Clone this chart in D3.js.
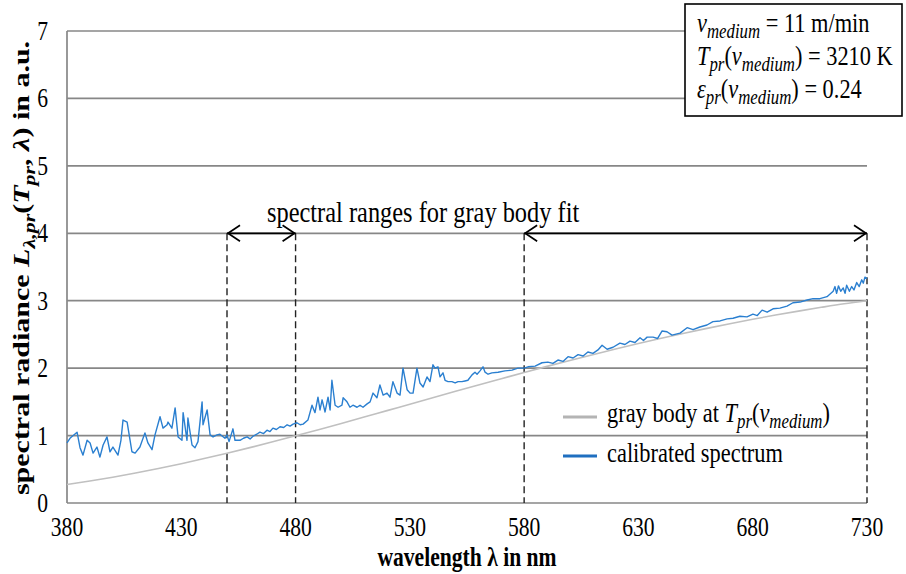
<!DOCTYPE html>
<html>
<head>
<meta charset="utf-8">
<script src="https://cdn.jsdelivr.net/npm/d3@7"></script>
<style>
  html, body { margin: 0; padding: 0; background: #fff; }
  svg { display: block; font-family: "Liberation Serif", "Times New Roman", serif; }
</style>
</head>
<body>
<svg id="chart" width="906" height="574"></svg>
<script>
// Axis ranges and tick labels
const xTicks = [380, 430, 480, 530, 580, 630, 680, 730];
const yTicks = [0, 1, 2, 3, 4, 5, 6, 7];

// Wavelength boundaries of the two fit ranges (nm)
const fitRanges = [[450, 480], [580, 730]];

// Gray body curve: wavelength (nm) and radiance (a.u.)
const grayWavelength = [380, 390, 400, 410, 420, 430, 440, 450, 460, 470, 480, 490, 500, 510, 520, 530, 540, 550, 560, 570, 580, 590, 600, 610, 620, 630, 640, 650, 660, 670, 680, 690, 700, 710, 720, 730];
const grayRadiance = [0.274, 0.326, 0.383, 0.445, 0.512, 0.583, 0.659, 0.738, 0.821, 0.907, 0.996, 1.087, 1.180, 1.274, 1.370, 1.465, 1.561, 1.656, 1.750, 1.843, 1.936, 2.026, 2.114, 2.200, 2.284, 2.365, 2.443, 2.518, 2.590, 2.659, 2.725, 2.787, 2.846, 2.902, 2.955, 3.000];

// Calibrated spectrum: wavelength (nm) and radiance (a.u.)
const specWavelength = [
  380.0, 381.3, 384.4, 385.7, 387.0, 388.8, 390.1, 391.4, 393.1, 394.4, 395.8, 397.5, 398.8, 400.1, 402.3, 403.6, 404.5, 406.3, 407.6, 408.4,
  409.8, 411.9, 414.1, 415.4, 417.2, 418.5, 420.7, 422.0, 423.8, 424.2, 425.9, 427.3, 428.6, 430.3, 430.8, 432.5, 432.9, 434.7, 436.0, 437.3,
  439.1, 439.5, 441.3, 442.6, 443.9, 445.6, 446.9, 449.1, 450.0, 450.9, 452.6, 453.5, 455.7, 457.2, 458.8, 460.1, 461.4, 463.0, 464.4, 466.0,
  467.5, 468.8, 470.1, 471.6, 473.2, 474.8, 476.3, 477.6, 478.9, 480.6, 482.0, 483.3, 485.4, 487.2, 488.5, 489.8, 490.7, 491.6, 492.9, 494.2,
  495.1, 495.9, 497.3, 498.6, 500.3, 500.8, 502.5, 503.8, 505.1, 506.9, 508.2, 509.5, 511.3, 512.6, 513.9, 515.6, 516.9, 518.3, 520.0, 521.3,
  522.6, 524.4, 525.7, 527.0, 528.8, 530.1, 531.4, 533.1, 534.4, 535.8, 537.5, 538.8, 540.1, 541.0, 542.3, 543.2, 544.5, 545.4, 546.7, 548.4,
  549.8, 551.1, 552.8, 554.1, 555.4, 557.2, 558.5, 559.4, 560.7, 562.0, 562.9, 564.2, 565.9, 568.6, 571.6, 574.7, 577.3, 579.9, 581.7, 584.8,
  587.8, 590.4, 592.6, 594.8, 597.0, 599.2, 601.4, 603.6, 605.8, 607.9, 610.1, 612.3, 614.1, 616.3, 618.9, 621.9, 624.1, 626.3, 628.5, 630.7,
  632.2, 633.8, 636.4, 638.4, 640.3, 642.5, 644.7, 648.2, 651.3, 653.9, 656.9, 660.0, 662.6, 665.7, 668.8, 671.4, 674.4, 677.5, 680.1, 682.0,
  684.1, 686.3, 688.9, 691.9, 695.0, 697.6, 700.7, 703.8, 706.4, 709.4, 712.5, 715.2, 716.0, 716.7, 717.5, 718.5, 719.6, 720.4, 721.1, 722.3,
  723.3, 724.3, 725.5, 726.6, 727.7, 728.4, 729.1, 730.0
];
const specRadiance = [
  0.89, 0.96, 1.05, 0.82, 0.71, 0.93, 0.89, 0.74, 0.83, 0.68, 0.86, 0.98, 0.76, 0.83, 0.71, 0.93, 1.23, 1.20, 0.93, 0.76,
  0.74, 0.83, 1.04, 0.89, 0.79, 1.01, 1.28, 1.11, 1.16, 1.20, 1.11, 1.41, 0.98, 0.93, 1.34, 0.93, 1.26, 0.86, 0.82, 0.91,
  1.50, 1.16, 1.38, 1.01, 0.98, 1.01, 1.02, 0.96, 1.01, 0.91, 1.10, 0.93, 0.93, 0.96, 0.98, 0.95, 0.99, 1.02, 1.05, 1.03,
  1.08, 1.06, 1.11, 1.09, 1.13, 1.12, 1.16, 1.14, 1.17, 1.19, 1.16, 1.17, 1.23, 1.45, 1.34, 1.57, 1.38, 1.53, 1.35, 1.57,
  1.38, 1.82, 1.45, 1.42, 1.45, 1.56, 1.50, 1.42, 1.45, 1.42, 1.45, 1.42, 1.47, 1.50, 1.63, 1.56, 1.75, 1.60, 1.63, 1.57,
  1.80, 1.63, 1.60, 2.00, 1.68, 1.63, 1.63, 2.00, 1.78, 1.72, 1.87, 1.80, 2.05, 2.00, 2.02, 1.87, 1.93, 1.82, 1.80, 1.80,
  1.78, 1.80, 1.80, 1.81, 1.82, 1.90, 1.94, 1.91, 1.96, 2.02, 1.94, 1.91, 1.93, 1.94, 1.96, 1.97, 2.00, 2.00, 2.02, 2.03,
  2.08, 2.09, 2.07, 2.12, 2.10, 2.17, 2.15, 2.20, 2.18, 2.24, 2.22, 2.27, 2.34, 2.28, 2.31, 2.37, 2.35, 2.40, 2.38, 2.45,
  2.41, 2.46, 2.46, 2.44, 2.55, 2.54, 2.49, 2.52, 2.60, 2.57, 2.61, 2.64, 2.69, 2.70, 2.73, 2.74, 2.77, 2.76, 2.80, 2.78,
  2.86, 2.83, 2.88, 2.89, 2.92, 2.97, 2.98, 3.01, 3.03, 3.03, 3.06, 3.14, 3.21, 3.11, 3.22, 3.14, 3.19, 3.11, 3.23, 3.14,
  3.21, 3.16, 3.27, 3.21, 3.31, 3.26, 3.35, 3.33
];

// Text labels
const legendLabels = ["gray body at", "calibrated spectrum"];
const fitLabel = "spectral ranges for gray body fit";
const xTitle = "wavelength λ in nm";

const svg = d3.select("#chart");
const W = 906, H = 574;
const margin = { top: 31, right: 39, bottom: 71, left: 67 };

const x = d3.scaleLinear().domain([380, 730]).range([margin.left, W - margin.right]);
const y = d3.scaleLinear().domain([0, 7]).range([H - margin.bottom, margin.top]);

const gridColor = "#878787";
const blue = "#2a7fd0";
const grayLine = "#c0c0c0";
const SX = 0.8; // horizontal condensing of the serif lettering

// Horizontal text drawn with condensed glyphs
function hText(parent, px, py, size, anchor = "start") {
  return parent.append("g")
    .attr("transform", `translate(${px},${py}) scale(${SX},1)`)
    .append("text")
    .attr("x", 0).attr("y", 0)
    .attr("font-size", size)
    .attr("text-anchor", anchor)
    .attr("fill", "#000");
}

// Writes rich text segments: [text, italic, subscript]
function rich(t, segs, subSize, shift) {
  let level = 0;
  segs.forEach(([s, it, sub]) => {
    const target = sub ? shift : 0;
    const ts = t.append("tspan").text(s);
    if (target !== level) { ts.attr("dy", target - level); level = target; }
    if (it) ts.attr("font-style", "italic");
    if (sub) ts.attr("font-size", subSize);
  });
  return t;
}

// Horizontal gridlines
svg.append("g")
  .selectAll("line")
  .data(yTicks)
  .join("line")
  .attr("x1", x(380)).attr("x2", x(730))
  .attr("y1", d => y(d)).attr("y2", d => y(d))
  .attr("stroke", gridColor)
  .attr("stroke-width", 1.7);

// Left axis line
svg.append("line")
  .attr("x1", x(380)).attr("x2", x(380))
  .attr("y1", y(0)).attr("y2", y(7))
  .attr("stroke", gridColor)
  .attr("stroke-width", 1.7);

// Tick labels
const tickG = svg.append("g");
xTicks.forEach(v => hText(tickG, x(v), 536, 27, "middle").text(v));
yTicks.forEach(v => hText(tickG, 48, y(v) + 9, 27, "end").text(v));

// Dashed boundaries of the fit ranges
const bounds = Array.from(new Set(fitRanges.flat()));
svg.append("g")
  .selectAll("line")
  .data(bounds)
  .join("line")
  .attr("x1", d => x(d)).attr("x2", d => x(d))
  .attr("y1", y(4)).attr("y2", y(0))
  .attr("stroke", "#222")
  .attr("stroke-width", 1.4)
  .attr("stroke-dasharray", "7,4");

// Gray body curve
const grayData = grayWavelength.map((w, i) => [w, grayRadiance[i]]);
svg.append("path")
  .datum(grayData)
  .attr("fill", "none")
  .attr("stroke", grayLine)
  .attr("stroke-width", 1.6)
  .attr("d", d3.line().x(d => x(d[0])).y(d => y(d[1])).curve(d3.curveMonotoneX));

// Calibrated spectrum
const specData = specWavelength.map((w, i) => [w, specRadiance[i]]);
svg.append("path")
  .datum(specData)
  .attr("fill", "none")
  .attr("stroke", blue)
  .attr("stroke-width", 1.4)
  .attr("stroke-linejoin", "round")
  .attr("d", d3.line().x(d => x(d[0])).y(d => y(d[1])));

// Double-headed arrows over the fit ranges
const arrowG = svg.append("g").attr("stroke", "#000").attr("stroke-width", 1.7).attr("fill", "none");
fitRanges.forEach(([a, b]) => {
  const x0 = x(a), x1 = x(b), yy = y(4);
  arrowG.append("line").attr("x1", x0).attr("x2", x1).attr("y1", yy).attr("y2", yy);
  arrowG.append("path").attr("d", `M${x0 + 13},${yy - 8} L${x0 + 1},${yy} L${x0 + 13},${yy + 8}`);
  arrowG.append("path").attr("d", `M${x1 - 13},${yy - 8} L${x1 - 1},${yy} L${x1 - 13},${yy + 8}`);
});

hText(svg, 267, 222, 30.5).text(fitLabel);

// Parameter box
const box = svg.append("g");
box.append("rect")
  .attr("x", 685).attr("y", 4).attr("width", 217).attr("height", 112)
  .attr("fill", "#fff").attr("stroke", "#000").attr("stroke-width", 1.6);

const vMed = [["v", true, false], ["medium", true, true]];
rich(hText(box, 697, 32, 28), [...vMed, [" = 11 m/min", false, false]], 21, 6);
rich(hText(box, 697, 65, 28), [["T", true, false], ["pr", true, true], ["(", false, false], ...vMed, [") = 3210 K", false, false]], 21, 6);
rich(hText(box, 697, 98, 28), [["ε", true, false], ["pr", true, true], ["(", false, false], ...vMed, [") = 0.24", false, false]], 21, 6);

// Legend
const lg = svg.append("g");
lg.append("line").attr("x1", 563).attr("x2", 597).attr("y1", 417).attr("y2", 417)
  .attr("stroke", "#b4b4b4").attr("stroke-width", 3);
rich(hText(lg, 607, 422, 28), [[legendLabels[0] + " ", false, false], ["T", true, false], ["pr", true, true], ["(", false, false], ...vMed, [")", false, false]], 21, 6);

lg.append("line").attr("x1", 563).attr("x2", 597).attr("y1", 456).attr("y2", 456)
  .attr("stroke", "#1f6fc0").attr("stroke-width", 3);
hText(lg, 607, 462, 28).text(legendLabels[1]);

// Axis titles
hText(svg, (x(380) + x(730)) / 2, 566, 27, "middle")
  .attr("font-weight", "bold")
  .text(xTitle);

const yt = svg.append("g")
  .attr("transform", `translate(29,${(y(0) + y(7)) / 2 + 1}) rotate(-90) scale(1,${SX})`)
  .append("text")
  .attr("text-anchor", "middle")
  .attr("font-size", 30)
  .attr("font-weight", "bold");
rich(yt, [
  ["spectral radiance ", false, false],
  ["L", true, false], ["λ,pr", true, true],
  ["(", false, false], ["T", true, false], ["pr", true, true],
  [", ", false, false], ["λ", true, false], [") in a.u.", false, false]
], 22, 7);
</script>
</body>
</html>
